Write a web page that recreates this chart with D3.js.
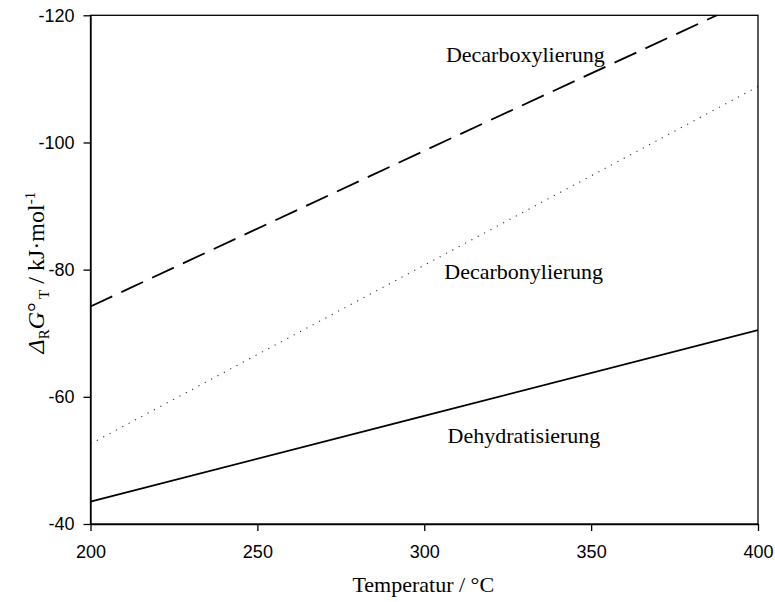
<!DOCTYPE html>
<html><head><meta charset="utf-8">
<script src="https://cdn.jsdelivr.net/npm/d3@7"></script>
<style>body{margin:0;background:#fff}svg{display:block}</style>
</head><body>
<script>
const temps = [200, 300, 400];
const decarboxylierung = [-74.2, -98.7, -123.0];
const decarbonylierung = [-52.6, -80.7, -108.8];
const dehydratisierung = [-43.5, -57.0, -70.5];
const xTicks = [200, 250, 300, 350, 400];
const yTicks = [-120, -100, -80, -60, -40];
const labels = [
  {text: "Decarboxylierung", t: 306.5, v: -112.7},
  {text: "Decarbonylierung", t: 306.0, v: -78.6},
  {text: "Dehydratisierung", t: 307.0, v: -52.8}
];

const W = 775, H = 602;
const m = {left: 90.5, right: 17, top: 15.3, bottom: 78};
const svg = d3.select("body").append("svg").attr("width", W).attr("height", H);
const x = d3.scaleLinear().domain([200, 400]).range([m.left, W - m.right]);
const y = d3.scaleLinear().domain([-120, -40]).range([m.top, H - m.bottom]);

svg.append("clipPath").attr("id", "clip").append("rect")
  .attr("x", x(200)).attr("y", y(-120)).attr("width", x(400) - x(200)).attr("height", y(-40) - y(-120));

const series = [
  {vals: decarboxylierung, dash: "24,10", w: 1.8, c: "#000"},
  {vals: decarbonylierung, dash: "1.2,6", w: 1.1, c: "#333"},
  {vals: dehydratisierung, dash: null, w: 1.8, c: "#000"}
];
const line = d3.line().x(d => x(d[0])).y(d => y(d[1]));
const g = svg.append("g").attr("clip-path", "url(#clip)");
series.forEach(s => {
  g.append("path").datum(temps.map((t, i) => [t, s.vals[i]]))
    .attr("d", line).attr("fill", "none").attr("stroke", s.c)
    .attr("stroke-width", s.w).attr("stroke-dasharray", s.dash);
});

// frame
svg.append("rect").attr("x", x(200)).attr("y", y(-120))
  .attr("width", x(400) - x(200)).attr("height", y(-40) - y(-120))
  .attr("fill", "none").attr("stroke", "#000").attr("stroke-width", 1.3);

const xAxis = svg.append("g").attr("transform", `translate(0,${y(-40)})`)
  .call(d3.axisBottom(x).tickValues(xTicks).tickFormat(d => String(d)).tickSize(7).tickSizeOuter(0).tickPadding(14));
const yAxis = svg.append("g").attr("transform", `translate(${x(200)},0)`)
  .call(d3.axisLeft(y).tickValues(yTicks).tickFormat(d => String(d)).tickSize(7).tickSizeOuter(0).tickPadding(9));
[xAxis, yAxis].forEach(a => {
  a.select(".domain").attr("stroke-width", 1.3);
  a.selectAll(".tick line").attr("stroke-width", 1.3);
  a.selectAll("text").attr("font-family", "Liberation Sans, Arial, sans-serif").attr("font-size", 18).attr("fill", "#000");
});

svg.selectAll(".lbl").data(labels).enter().append("text")
  .attr("x", d => x(d.t)).attr("y", d => y(d.v))
  .attr("font-family", "Liberation Serif, Times New Roman, serif").attr("font-size", 22)
  .text(d => d.text);

svg.append("text").attr("x", (x(200) + x(400)) / 2 - 1).attr("y", 592)
  .attr("text-anchor", "middle")
  .attr("font-family", "Liberation Serif, Times New Roman, serif").attr("font-size", 22)
  .text("Temperatur / °C");

const yt = svg.append("text")
  .attr("transform", `translate(44,${(y(-120) + y(-40)) / 2 + 3}) rotate(-90)`)
  .attr("text-anchor", "middle")
  .attr("font-family", "Liberation Serif, Times New Roman, serif").attr("font-size", 24);
yt.append("tspan").attr("font-style", "italic").text("Δ");
yt.append("tspan").attr("font-size", 15).attr("dy", 5).text("R");
yt.append("tspan").attr("font-style", "italic").attr("dy", -5).text("G");
yt.append("tspan").text("°");
yt.append("tspan").attr("font-size", 15).attr("dy", 5).text(" T");
yt.append("tspan").attr("dy", -5).text(" / kJ·mol");
yt.append("tspan").attr("font-size", 15).attr("dy", -9).text("-1");
</script>
</body></html>
